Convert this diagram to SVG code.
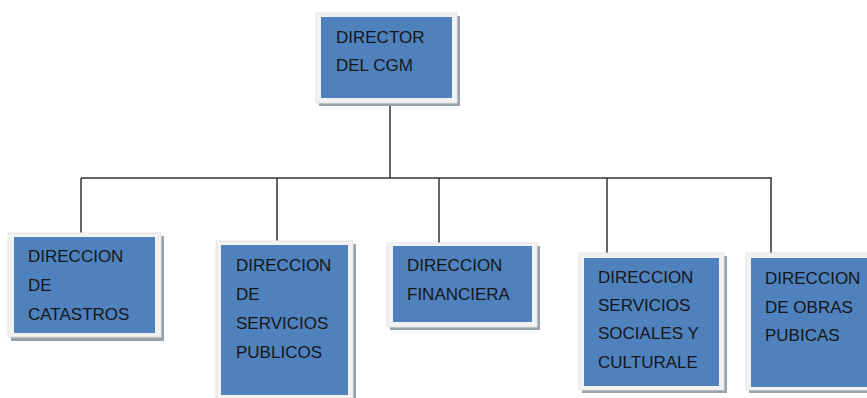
<svg xmlns="http://www.w3.org/2000/svg" width="867" height="398" viewBox="0 0 867 398">
<style>
.sh{fill:#97a1ab}
.fr{fill:#f2f2f2;stroke:#e3e3e3;stroke-width:1}
.bx{fill:#4f81bd}
.t{font-family:"Liberation Sans",Arial,sans-serif;font-size:17px;fill:#161616}
.c{stroke:#333;stroke-width:1.5;fill:none}
</style>
<rect width="867" height="398" fill="#fff"/>
<g id="connectors">
<line class="c" x1="390" y1="103" x2="390" y2="178"/>
<line class="c" x1="81" y1="178" x2="772" y2="178"/>
<line class="c" x1="81" y1="178" x2="81" y2="233"/>
<line class="c" x1="277" y1="178" x2="277" y2="241"/>
<line class="c" x1="439" y1="178" x2="439" y2="243"/>
<line class="c" x1="607" y1="178" x2="607" y2="253"/>
<line class="c" x1="771" y1="178" x2="771" y2="253"/>
</g>
<g id="director">
<rect class="sh" x="319" y="16" width="141" height="90"/>
<rect class="fr" x="316" y="13" width="141" height="90"/>
<rect class="bx" x="321" y="17" width="131" height="81"/>
<text class="t" x="336" y="43">DIRECTOR</text>
<text class="t" x="336" y="71">DEL CGM</text>
</g>
<g id="catastros">
<rect class="sh" x="11" y="236" width="153" height="105"/>
<rect class="fr" x="8" y="233" width="153" height="104"/>
<rect class="bx" x="14" y="237" width="141" height="96"/>
<text class="t" x="28" y="262">DIRECCION</text>
<text class="t" x="28" y="291">DE</text>
<text class="t" x="28" y="320">CATASTROS</text>
</g>
<g id="servicios-publicos">
<rect class="sh" x="219" y="244" width="137" height="160"/>
<rect class="fr" x="216" y="241" width="137" height="160"/>
<rect class="bx" x="221" y="245" width="127" height="150"/>
<text class="t" x="236" y="271">DIRECCION</text>
<text class="t" x="236" y="300">DE</text>
<text class="t" x="236" y="329">SERVICIOS</text>
<text class="t" x="236" y="358">PUBLICOS</text>
</g>
<g id="financiera">
<rect class="sh" x="390" y="246" width="150" height="84"/>
<rect class="fr" x="387" y="243" width="150" height="84"/>
<rect class="bx" x="393" y="246" width="139" height="76"/>
<text class="t" x="407" y="271">DIRECCION</text>
<text class="t" x="407" y="300">FINANCIERA</text>
</g>
<g id="sociales">
<rect class="sh" x="582" y="256" width="145" height="137"/>
<rect class="fr" x="579" y="253" width="145" height="137"/>
<rect class="bx" x="584" y="258" width="135" height="128"/>
<text class="t" x="598" y="283">DIRECCION</text>
<text class="t" x="598" y="311">SERVICIOS</text>
<text class="t" x="598" y="339">SOCIALES Y</text>
<text class="t" x="598" y="368">CULTURALE</text>
</g>
<g id="obras">
<rect class="sh" x="749" y="256" width="130" height="137"/>
<rect class="fr" x="746" y="253" width="130" height="137"/>
<rect class="bx" x="751" y="258" width="125" height="129"/>
<text class="t" x="765" y="284">DIRECCION</text>
<text class="t" x="765" y="313">DE OBRAS</text>
<text class="t" x="765" y="341">PUBICAS</text>
</g>
</svg>
